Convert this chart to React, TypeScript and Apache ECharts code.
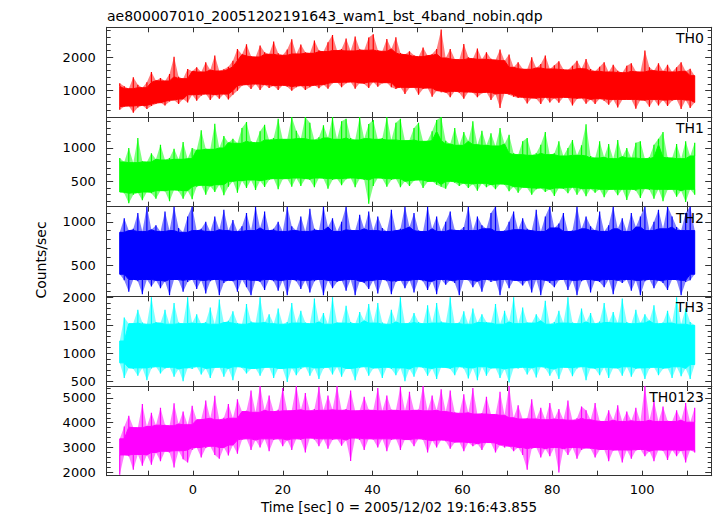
import React, { useEffect, useRef } from "react";
import * as echarts from "echarts";

const chartTitle = "ae800007010_20051202191643_wam1_bst_4band_nobin.qdp";
const xAxisTitle = "Time [sec] 0 = 2005/12/02 19:16:43.855";
const yAxisTitle = "Counts/sec";
const panelNames = ["TH0", "TH1", "TH2", "TH3", "TH0123"];
const panelColors = ["#ff0000", "#00ff00", "#0000ff", "#00ffff", "#ff00ff"];
const yRanges = [
  [213, 2898],
  [120, 1465],
  [147, 1174],
  [416, 2018],
  [1863, 5480],
];
const yLabelValues = [
  [1000, 2000],
  [500, 1000],
  [500, 1000],
  [500, 1000, 1500, 2000],
  [2000, 3000, 4000, 5000],
];
const yMinorSteps = [200, 100, 100, 100, 200];
const xRange = [-19.2, 115.5];
const xTickValues = [-10, 0, 10, 20, 30, 40, 50, 60, 70, 80, 90, 100, 110];
const xLabelValues = [0, 20, 40, 60, 80, 100];
// one low/high envelope pair per time bin
const timeStart = -16.3;
const timeStep = 1.008;

const th0Hi = [
  1220, 1130, 1060, 1400, 1180, 1090, 1250, 1560,
  1300, 1380, 1290, 1500, 2020, 1420, 1360, 1650,
  1580, 1700, 1560, 1850, 1620, 2050, 1590, 1640,
  1720, 1900, 2250, 2080, 2390, 2040, 2010, 2350,
  2150, 2090, 2470, 2120, 2060, 2230, 2540, 2100,
  2380, 2150, 2120, 2500, 2210, 2170, 2450, 2670,
  2200, 2250, 2560, 2190, 2620, 2240, 2210, 2590,
  2690, 2220, 2180, 2550, 2250, 2600, 2130, 2080,
  2180, 2060, 2020, 2290, 2050, 2100, 2250, 2830,
  1980, 2250, 1950, 1930, 2400, 2000, 1960, 2260,
  1940, 2150, 1960, 1920, 2230, 1900, 2080, 1700,
  1850, 1660, 1640, 2000, 1680, 1800, 2050, 1650,
  1760, 1880, 1640, 1620, 1750, 1900, 1660, 1950,
  1650, 1580, 1720, 1850, 1560, 1780, 1600, 1540,
  1750, 1820, 1580, 1560, 2200, 1700, 1600, 1820,
  1580, 1780, 1560, 1700, 1850, 1580, 1660, 1450,
];
const th0Lo = [
  430, 520, 540, 340, 500, 560, 450, 540,
  600, 640, 560, 680, 720, 600, 750, 650,
  880, 700, 850, 900, 720, 880, 760, 900,
  740, 880, 1000, 1150, 1180, 1050, 1200, 1020,
  1180, 1080, 1150, 1020, 1160, 1120, 1000, 1100,
  1150, 1020, 1100, 1160, 1070, 1180, 1060, 1220,
  1250, 1100, 1220, 1260, 1060, 1230, 1200, 1080,
  1260, 1120, 1220, 1240, 1100, 1050, 1100, 900,
  1080, 1100, 880, 1050, 1080, 820, 1000, 950,
  950, 800, 980, 940, 760, 960, 940, 800,
  920, 950, 720, 900, 480, 920, 880, 820,
  780, 800, 620, 780, 760, 600, 800, 650,
  780, 640, 800, 780, 560, 750, 780, 610,
  740, 600, 760, 700, 580, 740, 500, 720,
  740, 740, 460, 720, 700, 520, 740, 560,
  720, 540, 700, 740, 450, 720, 480, 650,
];

const th1Hi = [
  850, 790, 1000, 780, 1150, 800, 790, 920,
  830, 1050, 820, 850, 990, 830, 1090, 840,
  1000, 970, 1265, 990, 980, 1365, 1000, 1180,
  1080, 1140, 1070, 1300, 1390, 1100, 1080, 1250,
  1350, 1120, 1150, 1440, 1130, 1130, 1465, 1260,
  1140, 1465, 1380, 1120, 1160, 1340, 1150, 1465,
  1130, 1400, 1440, 1150, 1120, 1465, 1140, 1360,
  1420, 1130, 1150, 1465, 1120, 1380, 1440, 1110,
  1120, 1300, 1380, 1100, 1110, 1250, 1420, 1465,
  1110, 1060, 1300, 1040, 1240, 1100, 1400, 1050,
  1260, 1040, 1220, 1030, 1300, 1060, 1200, 920,
  900, 1100, 1150, 890, 920, 1050, 1240, 900,
  920, 1100, 880, 1000, 1120, 890, 1040, 1355,
  880, 850, 1100, 860, 1060, 840, 1120, 870,
  1000, 850, 1080, 1100, 840, 860, 1050, 1140,
  1240, 860, 850, 1060, 840, 1100, 880, 1080,
];
const th1Lo = [
  340, 320, 170, 300, 330, 215, 340, 320,
  240, 360, 350, 200, 370, 350, 240, 360,
  230, 420, 440, 300, 430, 340, 450, 290,
  420, 500, 330, 510, 400, 520, 370, 510,
  415, 520, 540, 380, 530, 540, 420, 550,
  430, 540, 520, 410, 550, 540, 390, 520,
  540, 440, 530, 550, 410, 540, 520, 165,
  430, 550, 540, 420, 520, 540, 410, 500,
  430, 510, 520, 400, 490, 500, 450, 420,
  390, 500, 480, 430, 470, 400, 460, 360,
  470, 410, 450, 380, 460, 450, 350, 420,
  330, 410, 400, 300, 380, 400, 340, 380,
  280, 400, 390, 320, 410, 300, 390, 275,
  390, 330, 380, 260, 370, 380, 290, 380,
  220, 380, 360, 250, 390, 370, 240, 380,
  200, 370, 380, 270, 360, 190, 380, 300,
];

const th2Hi = [
  880, 1040, 900, 920, 1100, 890, 1179, 910,
  960, 890, 1120, 900, 1179, 930, 880, 1060,
  1179, 900, 920, 1000, 890, 1060, 910, 1140,
  900, 1020, 890, 950, 1100, 900, 1179, 930,
  1120, 900, 920, 1000, 890, 1179, 950, 900,
  1060, 890, 1150, 920, 900, 1179, 940, 1040,
  890, 1000, 1179, 910, 900, 1080, 920, 1120,
  900, 1060, 930, 890, 1140, 900, 920, 1179,
  940, 1100, 900, 890, 1179, 920, 1060, 890,
  1000, 1120, 910, 900, 940, 1179, 900, 1060,
  960, 920, 1100, 1179, 890, 900, 1000, 1120,
  910, 1040, 920, 900, 1140, 890, 1060, 1179,
  930, 980, 1100, 890, 900, 1179, 920, 1060,
  950, 900, 1120, 890, 960, 1179, 920, 1040,
  890, 1100, 940, 1060, 1179, 900, 1000, 1140,
  920, 1179, 1060, 940, 900, 1100, 1179, 900,
];
const th2Lo = [
  400, 330, 200, 340, 320, 170, 340, 260,
  330, 240, 320, 160, 340, 330, 200, 310,
  340, 230, 330, 180, 320, 340, 160, 300,
  330, 320, 200, 340, 250, 160, 330, 310,
  220, 340, 320, 210, 330, 160, 340, 320,
  230, 330, 190, 320, 340, 160, 330, 240,
  310, 330, 210, 340, 160, 320, 300, 230,
  330, 180, 340, 320, 170, 310, 330, 240,
  330, 190, 340, 320, 220, 320, 170, 340,
  280, 330, 300, 160, 340, 330, 250, 320,
  200, 340, 310, 330, 160, 340, 240, 330,
  320, 270, 330, 190, 340, 160, 330, 300,
  250, 330, 340, 220, 330, 160, 320, 340,
  190, 330, 310, 250, 340, 170, 330, 300,
  340, 210, 330, 160, 320, 340, 240, 330,
  300, 220, 340, 330, 160, 310, 330, 400,
];

const th3Hi = [
  1220, 1640, 1530, 1540, 1780, 1550, 1520, 2000,
  1560, 1540, 1780, 1520, 1900, 1550, 1530, 2000,
  1540, 1700, 1530, 1560, 1820, 1520, 1960, 1550,
  1580, 1750, 1540, 1520, 1880, 1570, 1540, 2000,
  1550, 1700, 1530, 1800, 1520, 1560, 1900, 1540,
  1760, 1550, 1530, 1980, 1560, 1720, 1520, 2000,
  1550, 1540, 1850, 1560, 1530, 1740, 1580, 1880,
  1540, 1900, 1550, 1520, 1780, 1560, 2000, 1530,
  1550, 1720, 1560, 1530, 1860, 1540, 1900, 1570,
  1540, 2000, 1530, 1550, 1750, 1520, 1800, 1550,
  1700, 1560, 1540, 1880, 1520, 1760, 1560, 2000,
  1530, 1820, 1550, 1540, 1700, 1580, 1940, 1520,
  1560, 1760, 1540, 2000, 1550, 1530, 1800, 1560,
  1720, 1530, 1570, 1900, 1550, 1740, 1540, 1980,
  1560, 1530, 1780, 1540, 1700, 1580, 1860, 1530,
  1550, 1760, 1540, 2000, 1520, 1800, 1560, 1500,
];
const th3Lo = [
  830, 560, 740, 720, 600, 740, 520, 730,
  760, 640, 730, 750, 580, 720, 500, 740,
  720, 760, 620, 730, 560, 740, 750, 580,
  730, 520, 760, 740, 640, 720, 730, 600,
  740, 750, 560, 730, 720, 490, 740, 610,
  720, 760, 600, 740, 540, 730, 750, 620,
  760, 580, 730, 720, 520, 740, 760, 600,
  730, 740, 560, 750, 720, 610, 740, 500,
  720, 580, 760, 740, 600, 730, 540, 750,
  740, 720, 610, 760, 730, 550, 740, 520,
  760, 600, 730, 740, 560, 720, 480, 740,
  730, 750, 620, 740, 570, 760, 730, 600,
  720, 540, 750, 740, 590, 730, 760, 520,
  740, 720, 610, 750, 560, 740, 730, 600,
  760, 580, 720, 740, 540, 730, 750, 610,
  720, 740, 560, 760, 590, 730, 540, 800,
];

const th0123Hi = [
  3350, 3850, 4280, 3820, 3800, 4750, 3850, 4400,
  3900, 4600, 3920, 3880, 4790, 3950, 4450, 3920,
  4680, 4120, 4150, 4900, 4180, 5090, 4120, 4200,
  4750, 4180, 4950, 4450, 4480, 5300, 4420, 5490,
  4500, 5100, 4450, 4520, 5400, 4480, 4500, 5490,
  4520, 5200, 4480, 4550, 5450, 4500, 5100, 4520,
  5490, 4500, 4550, 5300, 4480, 4500, 5050, 4520,
  4500, 5400, 4480, 5100, 4520, 4500, 5450, 4480,
  5250, 4500, 4520, 5490, 4480, 5100, 4500, 5350,
  4450, 5300, 4420, 4380, 5150, 4400, 5400, 4350,
  4380, 5050, 4350, 4330, 5250, 4300, 5490, 4200,
  4700, 4150, 4180, 4950, 4150, 4600, 4120, 4800,
  4150, 4550, 4120, 4900, 4100, 4180, 4650, 4500,
  4120, 4800, 4080, 4050, 4500, 4100, 4700, 4050,
  4450, 4080, 4600, 4050, 5490, 4100, 4900, 4050,
  4650, 4080, 4050, 4500, 4100, 4800, 4020, 4600,
];
const th0123Lo = [
  1900, 2700, 2650, 2100, 2720, 2260, 2700, 2300,
  2800, 2450, 2850, 2800, 2190, 2870, 2530, 2400,
  2900, 3000, 2600, 2980, 3050, 2700, 2550, 3000,
  2680, 3100, 2750, 3300, 3350, 2900, 3300, 3000,
  3350, 2850, 3300, 3350, 3050, 3300, 2900, 3350,
  3300, 2800, 3380, 3320, 3050, 3350, 2950, 3300,
  3350, 3070, 3300, 2460, 3380, 3300, 2900, 3350,
  3320, 3000, 3350, 2850, 3300, 3350, 2900, 3320,
  3300, 3050, 3350, 3300, 2800, 3280, 3000, 3300,
  3250, 2950, 3200, 3220, 2850, 3200, 3050, 3150,
  2900, 3200, 3180, 2800, 3100, 3000, 3050, 2850,
  3000, 2700, 2100, 2950, 3000, 2600, 2950, 2650,
  3000, 1990, 2950, 2700, 3000, 2550, 2900, 2980,
  2950, 2600, 2900, 2920, 2450, 2880, 2900, 2400,
  2900, 2550, 2880, 2920, 2650, 2850, 2450, 2900,
  2870, 2500, 2900, 2650, 2880, 2400, 2900, 2800,
];

const panelLows = [th0Lo, th1Lo, th2Lo, th3Lo, th0123Lo];
const panelHighs = [th0Hi, th1Hi, th2Hi, th3Hi, th0123Hi];

// layout
const W = 717;
const H = 516;
const plotLeft = 106.7;
const plotRight = 711.7;
const plotTop = 27.3;
const plotBottom = 475.7;
const FONT = "DejaVu Sans";
const FRAME = "#333333";

function timeOf(i: number) {
  return timeStart + i * timeStep;
}

function minorTicks(range: number[], step: number, majors: number[]) {
  const out: number[] = [];
  for (let v = Math.ceil(range[0] / step) * step; v <= range[1]; v += step) {
    if (majors.indexOf(v) < 0) out.push(v);
  }
  return out;
}

// the solid core of the band: the lower of the neighbouring highs, the higher of the neighbouring lows
function coreEdge(vals: number[], pick: (a: number, b: number) => number) {
  return vals.map((v, k) => {
    let r = v;
    if (k > 0) r = pick(r, vals[k - 1]);
    if (k < vals.length - 1) r = pick(r, vals[k + 1]);
    return r;
  });
}

function buildOption() {
  const n = panelNames.length;
  const ph = (plotBottom - plotTop) / n;
  const grids: any[] = [];
  const xAxes: any[] = [];
  const yAxes: any[] = [];
  const series: any[] = [];
  const graphics: any[] = [];
  const lineStyle = { color: FRAME, width: 1 };
  const fmt = (v: number) => String(v);

  for (let i = 0; i < n; i++) {
    const top = plotTop + i * ph;
    grids.push({
      left: plotLeft,
      top: top,
      width: plotRight - plotLeft,
      height: ph,
      containLabel: false,
      outerBoundsMode: "none",
    });
    ["bottom", "top"].forEach((pos) => {
      xAxes.push({
        type: "value",
        gridIndex: i,
        position: pos,
        min: xRange[0],
        max: xRange[1],
        axisLine: { show: true, onZero: false, lineStyle },
        axisTick: {
          show: true,
          inside: true,
          length: 5,
          customValues: xTickValues,
          lineStyle,
        },
        axisLabel: {
          show: pos === "bottom" && i === n - 1,
          customValues: xLabelValues,
          formatter: fmt,
          fontFamily: FONT,
          fontSize: 13,
          color: "#000",
          margin: 7,
        },
        splitLine: { show: false },
      });
    });
    const range = yRanges[i];
    const majors = yLabelValues[i];
    const minors = minorTicks(range, yMinorSteps[i], majors);
    ["left", "right"].forEach((pos) => {
      yAxes.push({
        type: "value",
        gridIndex: i,
        position: pos,
        min: range[0],
        max: range[1],
        axisLine: { show: true, onZero: false, lineStyle },
        axisTick: {
          show: true,
          inside: true,
          length: 6.5,
          customValues: majors,
          lineStyle,
        },
        axisLabel: {
          show: pos === "left",
          customValues: majors,
          formatter: fmt,
          fontFamily: FONT,
          fontSize: 13,
          color: "#000",
          margin: 11,
        },
        splitLine: { show: false },
      });
      yAxes.push({
        type: "value",
        gridIndex: i,
        position: pos,
        min: range[0],
        max: range[1],
        axisLine: { show: false, onZero: false },
        axisTick: {
          show: true,
          inside: true,
          length: 4,
          customValues: minors,
          lineStyle,
        },
        axisLabel: { show: false },
        splitLine: { show: false },
      });
    });
    const lo = panelLows[i];
    const hi = panelHighs[i];
    const coreHi = coreEdge(hi, Math.min);
    const coreLo = coreEdge(lo, Math.max);
    const c = panelColors[i];
    series.push({
      type: "custom",
      name: panelNames[i],
      xAxisIndex: i * 2,
      yAxisIndex: i * 4,
      data: lo.map((v, k) => [timeOf(k), v, hi[k]]),
      encode: { x: 0, y: [1, 2] },
      clip: true,
      silent: true,
      z: 1,
      renderItem: (params: any, api: any) => {
        if (params.dataIndex !== 0) return null;
        const outer: number[][] = [];
        for (let k = 0; k < hi.length; k++) outer.push(api.coord([timeOf(k), hi[k]]));
        for (let k = lo.length - 1; k >= 0; k--) outer.push(api.coord([timeOf(k), lo[k]]));
        const inner: number[][] = [];
        for (let k = 0; k < hi.length; k++) inner.push(api.coord([timeOf(k), coreHi[k]]));
        for (let k = lo.length - 1; k >= 0; k--) inner.push(api.coord([timeOf(k), coreLo[k]]));
        const children: any[] = [
          {
            type: "polygon",
            shape: { points: outer },
            style: { fill: c, opacity: 0.5 },
          },
          {
            type: "polygon",
            shape: { points: inner },
            style: { fill: c, stroke: c, lineWidth: 1 },
          },
        ];
        for (let k = 0; k < hi.length; k++) {
          const t = timeOf(k);
          if (hi[k] > coreHi[k]) {
            const a = api.coord([t, coreHi[k]]);
            const b = api.coord([t, hi[k]]);
            children.push({
              type: "line",
              shape: { x1: a[0], y1: a[1], x2: b[0], y2: b[1] },
              style: { stroke: c, lineWidth: 1.2 },
            });
          }
          if (lo[k] < coreLo[k]) {
            const a = api.coord([t, coreLo[k]]);
            const b = api.coord([t, lo[k]]);
            children.push({
              type: "line",
              shape: { x1: a[0], y1: a[1], x2: b[0], y2: b[1] },
              style: { stroke: c, lineWidth: 1.2 },
            });
          }
        }
        return { type: "group", children };
      },
    });
    graphics.push({
      type: "text",
      x: 704,
      y: top + 11,
      style: {
        text: panelNames[i],
        fontFamily: FONT,
        fontSize: 14,
        fill: "#000",
        align: "right",
        verticalAlign: "middle",
      },
      z: 100,
    });
  }

  graphics.push({
    type: "text",
    x: 107,
    y: 16,
    style: {
      text: chartTitle,
      fontFamily: FONT,
      fontSize: 14,
      fill: "#000",
      align: "left",
      verticalAlign: "middle",
    },
  });
  graphics.push({
    type: "text",
    x: 399,
    y: 507,
    style: {
      text: xAxisTitle,
      fontFamily: FONT,
      fontSize: 13.5,
      fill: "#000",
      align: "center",
      verticalAlign: "middle",
    },
  });
  graphics.push({
    type: "text",
    x: 41,
    y: 260,
    rotation: Math.PI / 2,
    style: {
      text: yAxisTitle,
      fontFamily: FONT,
      fontSize: 14,
      fill: "#000",
      align: "center",
      verticalAlign: "middle",
    },
  });

  return {
    animation: false,
    backgroundColor: "#ffffff",
    grid: grids,
    xAxis: xAxes,
    yAxis: yAxes,
    series,
    graphic: graphics,
  };
}

export default function App() {
  const ref = useRef<HTMLDivElement>(null);
  useEffect(() => {
    document.body.style.margin = "0";
    if (!ref.current) return;
    const chart = echarts.init(ref.current, undefined, {
      renderer: "svg",
      width: W,
      height: H,
    });
    chart.setOption(buildOption() as any);
    return () => chart.dispose();
  }, []);
  return (
    <div
      ref={ref}
      style={{ position: "absolute", left: 0, top: 0, width: W, height: H }}
    />
  );
}
